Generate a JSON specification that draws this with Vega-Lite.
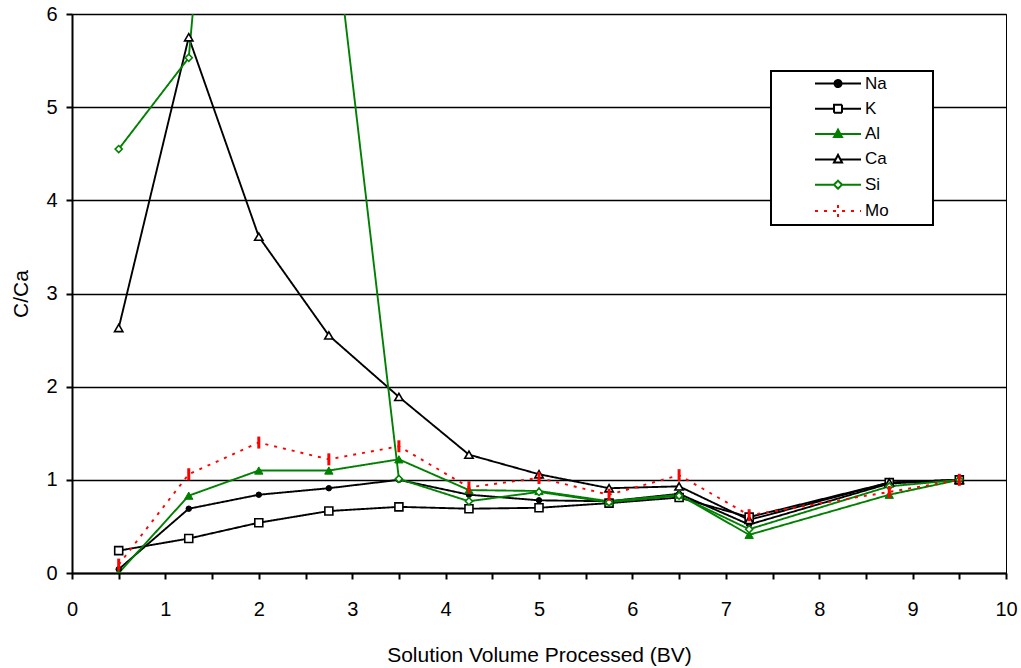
{
  "$schema": "https://vega.github.io/schema/vega-lite/v6.json",
  "width": 934,
  "height": 559,
  "autosize": {"type": "none"},
  "padding": {"left": 72, "top": 14, "right": 15, "bottom": 95},
  "background": "white",
  "config": {
    "font": "Liberation Sans",
    "view": {"stroke": "black", "strokeWidth": 1},
    "axis": {
      "labelFont": "Liberation Sans", "titleFont": "Liberation Sans",
      "labelColor": "black", "titleColor": "black",
      "labelFontSize": 20, "titleFontSize": 21, "titleFontWeight": "normal",
      "domainColor": "black", "tickColor": "black"
    },
    "legend": {
      "orient": "none",
      "padding": 4, "strokeColor": "black", "fillColor": "white", "strokeWidth": 2,
      "labelFont": "Liberation Sans", "labelFontSize": 17, "labelColor": "black",
      "symbolSize": 100, "symbolStrokeWidth": 2, "symbolOffset": 54.5, "labelOffset": 18.5, "rowPadding": 7.3
    }
  },
  "data": {"values": [
    {"bv": 0.5, "series": "Na", "value": 0.04}, {"bv": 1.25, "series": "Na", "value": 0.69}, {"bv": 2, "series": "Na", "value": 0.84}, {"bv": 2.75, "series": "Na", "value": 0.91}, {"bv": 3.5, "series": "Na", "value": 1.0}, {"bv": 4.25, "series": "Na", "value": 0.84}, {"bv": 5, "series": "Na", "value": 0.78}, {"bv": 5.75, "series": "Na", "value": 0.77}, {"bv": 6.5, "series": "Na", "value": 0.85}, {"bv": 7.25, "series": "Na", "value": 0.52}, {"bv": 8.75, "series": "Na", "value": 0.96}, {"bv": 9.5, "series": "Na", "value": 1.0},
    {"bv": 0.5, "series": "K", "value": 0.24}, {"bv": 1.25, "series": "K", "value": 0.37}, {"bv": 2, "series": "K", "value": 0.54}, {"bv": 2.75, "series": "K", "value": 0.665}, {"bv": 3.5, "series": "K", "value": 0.71}, {"bv": 4.25, "series": "K", "value": 0.69}, {"bv": 5, "series": "K", "value": 0.70}, {"bv": 5.75, "series": "K", "value": 0.75}, {"bv": 6.5, "series": "K", "value": 0.81}, {"bv": 7.25, "series": "K", "value": 0.60}, {"bv": 8.75, "series": "K", "value": 0.97}, {"bv": 9.5, "series": "K", "value": 1.0},
    {"bv": 0.5, "series": "Al", "value": 0.0}, {"bv": 1.25, "series": "Al", "value": 0.83}, {"bv": 2, "series": "Al", "value": 1.10}, {"bv": 2.75, "series": "Al", "value": 1.10}, {"bv": 3.5, "series": "Al", "value": 1.22}, {"bv": 4.25, "series": "Al", "value": 0.89}, {"bv": 5, "series": "Al", "value": 0.88}, {"bv": 5.75, "series": "Al", "value": 0.77}, {"bv": 6.5, "series": "Al", "value": 0.84}, {"bv": 7.25, "series": "Al", "value": 0.41}, {"bv": 8.75, "series": "Al", "value": 0.84}, {"bv": 9.5, "series": "Al", "value": 1.0},
    {"bv": 0.5, "series": "Ca", "value": 2.63}, {"bv": 1.25, "series": "Ca", "value": 5.75}, {"bv": 2, "series": "Ca", "value": 3.61}, {"bv": 2.75, "series": "Ca", "value": 2.55}, {"bv": 3.5, "series": "Ca", "value": 1.89}, {"bv": 4.25, "series": "Ca", "value": 1.27}, {"bv": 5, "series": "Ca", "value": 1.06}, {"bv": 5.75, "series": "Ca", "value": 0.91}, {"bv": 6.5, "series": "Ca", "value": 0.93}, {"bv": 7.25, "series": "Ca", "value": 0.57}, {"bv": 8.75, "series": "Ca", "value": 0.97}, {"bv": 9.5, "series": "Ca", "value": 1.0},
    {"bv": 0.5, "series": "Si", "value": 4.55}, {"bv": 1.25, "series": "Si", "value": 5.53}, {"bv": 2, "series": "Si", "value": 13.9}, {"bv": 2.75, "series": "Si", "value": 7.45}, {"bv": 3.5, "series": "Si", "value": 1.01}, {"bv": 4.25, "series": "Si", "value": 0.77}, {"bv": 5, "series": "Si", "value": 0.87}, {"bv": 5.75, "series": "Si", "value": 0.76}, {"bv": 6.5, "series": "Si", "value": 0.83}, {"bv": 7.25, "series": "Si", "value": 0.47}, {"bv": 8.75, "series": "Si", "value": 0.93}, {"bv": 9.5, "series": "Si", "value": 1.0},
    {"bv": 0.5, "series": "Mo", "value": 0.09}, {"bv": 1.25, "series": "Mo", "value": 1.06}, {"bv": 2, "series": "Mo", "value": 1.40}, {"bv": 2.75, "series": "Mo", "value": 1.22}, {"bv": 3.5, "series": "Mo", "value": 1.36}, {"bv": 4.25, "series": "Mo", "value": 0.92}, {"bv": 5, "series": "Mo", "value": 1.02}, {"bv": 5.75, "series": "Mo", "value": 0.84}, {"bv": 6.5, "series": "Mo", "value": 1.05}, {"bv": 7.25, "series": "Mo", "value": 0.62}, {"bv": 8.75, "series": "Mo", "value": 0.87}, {"bv": 9.5, "series": "Mo", "value": 1.0}
  ]},
  "encoding": {
    "x": {
      "field": "bv", "type": "quantitative",
      "scale": {"domain": [0, 10], "nice": false},
      "axis": {
        "title": "Solution Volume Processed (BV)",
        "values": [0, 0.5, 1, 1.5, 2, 2.5, 3, 3.5, 4, 4.5, 5, 5.5, 6, 6.5, 7, 7.5, 8, 8.5, 9, 9.5, 10],
        "labelExpr": "datum.value % 1 === 0 ? format(datum.value, 'd') : ''",
        "labelOverlap": false, "labelFlush": false,
        "grid": false, "domainWidth": 2, "tickWidth": 2, "tickSize": 6,
        "labelPadding": 20, "titlePadding": 25
      }
    },
    "y": {
      "field": "value", "type": "quantitative",
      "scale": {"domain": [0, 6], "nice": false},
      "axis": {
        "title": "C/Ca",
        "values": [0, 1, 2, 3, 4, 5, 6],
        "grid": true, "gridColor": "black", "gridWidth": 1.5, "gridOpacity": 1,
        "domainWidth": 2, "tickWidth": 2, "tickSize": 6,
        "labelPadding": 9, "titlePadding": 14
      }
    }
  },
  "layer": [
    {
      "mark": {"type": "point", "filled": true, "opacity": 0, "clip": true},
      "encoding": {
        "shape": {
          "field": "series", "type": "nominal",
          "scale": {"domain": ["Na", "K", "Al", "Ca", "Si", "Mo"], "range": [
            "M-4.6,0H4.6M-0.7,0A0.7,0.7,0,1,0,0.7,0A0.7,0.7,0,1,0,-0.7,0ZM-0.3,0A0.3,0.3,0,1,0,0.3,0A0.3,0.3,0,1,0,-0.3,0ZM17.2,0L17.201,0",
            "M-4.6,0H-0.8M0.8,0H4.6M-0.8,-0.8H0.8V0.8H-0.8ZM17.2,0L17.201,0",
            "M-4.6,0H4.6M0,-0.9L0.8,0.6H-0.8ZM0,-0.35L0.36,0.33H-0.36ZM17.2,0L17.201,0",
            "M-4.6,0H-0.48M0.48,0H4.6M0,-0.9L0.8,0.6H-0.8ZM17.2,0L17.201,0",
            "M-4.6,0H-0.8M0.8,0H4.6M0,-0.8L0.8,0L0,0.8L-0.8,0ZM17.2,0L17.201,0",
            "M-4.6,0H4.6M0,-1.2V1.2M17.2,0L17.201,0"
          ]},
          "legend": {
            "title": null, "orient": "none", "legendX": 699, "legendY": 57,
            "encode": {"symbols": {"update": {"fill": {"scale": "fill", "field": "value"}, "opacity": {"value": 1}}}}
          }
        },
        "stroke": {"field": "series", "type": "nominal", "scale": {"domain": ["Na", "K", "Al", "Ca", "Si", "Mo"], "range": ["#000000", "#000000", "#008000", "#000000", "#008000", "#FF0000"]}},
        "fill": {"field": "series", "type": "nominal", "scale": {"domain": ["Na", "K", "Al", "Ca", "Si", "Mo"], "range": ["#000000", "#FFFFFF", "#008000", "#FFFFFF", "#FFFFFF", "transparent"]}},
        "strokeDash": {"field": "series", "type": "nominal", "scale": {"domain": ["Na", "K", "Al", "Ca", "Si", "Mo"], "range": [[1, 0], [1, 0], [1, 0], [1, 0], [1, 0], [3, 6]]}}
      }
    },
    {
      "mark": {"type": "line", "clip": true, "strokeWidth": 1.9},
      "encoding": {
        "stroke": {"field": "series", "type": "nominal", "scale": {"domain": ["Na", "K", "Al", "Ca", "Si", "Mo"], "range": ["#000000", "#000000", "#008000", "#000000", "#008000", "#FF0000"]}},
        "strokeDash": {"field": "series", "type": "nominal", "scale": {"domain": ["Na", "K", "Al", "Ca", "Si", "Mo"], "range": [[1, 0], [1, 0], [1, 0], [1, 0], [1, 0], [3, 6]]}}
      }
    },
    {
      "transform": [{"filter": "datum.series === 'Na'"}],
      "mark": {"type": "point", "clip": true, "shape": "circle", "filled": true, "fill": "#000000", "stroke": "#000000", "strokeWidth": 1, "size": 30, "opacity": 1}
    },
    {
      "transform": [{"filter": "datum.series === 'K'"}],
      "mark": {"type": "point", "clip": true, "shape": "square", "filled": true, "fill": "#FFFFFF", "stroke": "#000000", "strokeWidth": 1.6, "size": 64, "opacity": 1}
    },
    {
      "transform": [{"filter": "datum.series === 'Al'"}],
      "mark": {"type": "point", "clip": true, "shape": "triangle-up", "filled": true, "fill": "#008000", "stroke": "#008000", "strokeWidth": 1, "size": 70, "opacity": 1}
    },
    {
      "transform": [{"filter": "datum.series === 'Ca'"}],
      "mark": {"type": "point", "clip": true, "shape": "triangle-up", "filled": true, "fill": "#FFFFFF", "stroke": "#000000", "strokeWidth": 1.6, "size": 70, "opacity": 1}
    },
    {
      "transform": [{"filter": "datum.series === 'Si'"}],
      "mark": {"type": "point", "clip": true, "shape": "diamond", "filled": true, "fill": "#FFFFFF", "stroke": "#008000", "strokeWidth": 1.6, "size": 50, "opacity": 1}
    },
    {
      "transform": [{"filter": "datum.series === 'Mo'"}],
      "mark": {"type": "point", "clip": true, "shape": "M0,-1V1", "filled": false, "stroke": "#FF0000", "strokeWidth": 3, "size": 144, "opacity": 1}
    }
  ]
}
